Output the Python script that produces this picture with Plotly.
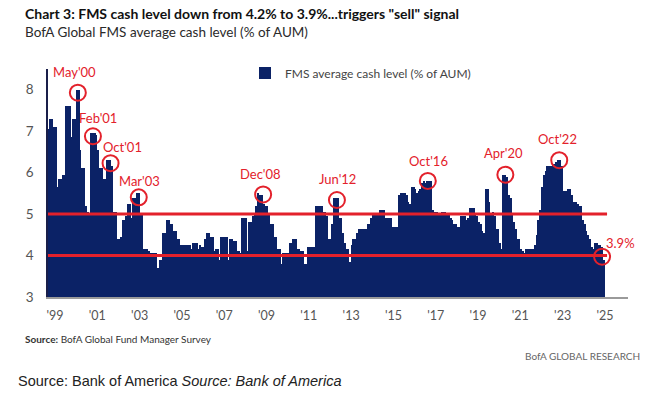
import plotly.graph_objects as go

# ---------------- data: FMS average cash level (% of AUM), monthly ----------------
start_year, start_month = 1998, 9
cash_1998 = [7.05, 7.3, 7.3, 7.1]  # Sep-Dec
cash_1999 = [7.1, 5.65, 5.85, 5.85, 5.95, 5.95, 7.6, 7.6, 7.6, 6.85, 7.3, 7.3]
cash_2000 = [8.0, 8.0, 6.55, 6.1, 6.1, 5.2, 5.05, 5.0, 6.95, 6.95, 6.95, 6.9]
cash_2001 = [6.55, 6.1, 6.1, 5.85, 5.85, 6.3, 6.3, 6.3, 6.15, 5.05, 5.05, 4.4]
cash_2002 = [4.4, 4.45, 4.85, 4.85, 4.95, 5.25, 5.25, 4.9, 5.4, 5.4, 5.5, 5.5]
cash_2003 = [5.0, 5.0, 4.15, 4.15, 4.15, 4.1, 4.05, 4.05, 4.05, 4.05, 3.7, 3.9]
cash_2004 = [3.9, 4.55, 4.55, 4.85, 4.85, 4.75, 4.75, 4.6, 4.6, 4.4, 4.4, 4.25]
cash_2005 = [4.25, 4.25, 4.25, 4.25, 4.25, 4.15, 4.3, 4.3, 4.3, 4.15, 4.25, 4.2]
cash_2006 = [4.2, 4.4, 4.55, 4.55, 4.45, 4.45, 4.1, 4.15, 4.15, 3.9, 4.45, 4.45]
cash_2007 = [4.45, 4.45, 3.9, 4.4, 4.4, 4.35, 4.35, 4.1, 4.1, 4.05, 4.9, 4.9]
cash_2008 = [4.9, 4.1, 4.8, 4.8, 4.95, 5.0, 5.2, 5.5, 5.45, 5.45, 5.25, 5.2]
cash_2009 = [5.2, 5.0, 4.75, 4.75, 4.45, 4.45, 4.15, 4.15, 3.8, 4.05, 4.05, 4.05]
cash_2010 = [4.05, 4.3, 4.3, 4.4, 4.4, 4.15, 4.15, 4.1, 4.1, 3.8, 3.8, 4.2]
cash_2011 = [4.2, 4.2, 4.2, 4.2, 5.2, 5.2, 5.2, 5.2, 5.05, 5.05, 4.95, 4.4]
cash_2012 = [4.4, 4.75, 5.4, 5.4, 5.4, 4.9, 4.9, 4.55, 4.3, 4.15, 4.15, 3.85]
cash_2013 = [4.25, 4.4, 4.4, 4.55, 4.65, 4.65, 4.65, 4.65, 4.65, 4.75, 4.75, 4.9]
cash_2014 = [5.0, 5.0, 5.0, 5.0, 5.1, 5.1, 5.1, 4.9, 4.9, 4.9, 4.9, 4.7]
cash_2015 = [4.7, 4.7, 4.7, 5.45, 5.5, 5.5, 5.5, 5.45, 5.3, 5.25, 5.65, 5.65]
cash_2016 = [5.6, 5.5, 5.55, 5.6, 5.75, 5.8, 5.75, 5.8, 5.8, 5.8, 5.1, 5.05]
cash_2017 = [5.05, 5.0, 5.0, 5.05, 5.05, 5.05, 5.0, 5.0, 4.9, 4.85, 4.75, 4.75]
cash_2018 = [4.7, 4.7, 4.95, 4.95, 4.95, 4.85, 4.9, 5.15, 5.15, 5.15, 5.0, 4.95]
cash_2019 = [4.8, 4.75, 4.6, 4.55, 5.6, 5.6, 5.3, 5.0, 5.05, 4.95, 4.65, 4.65]
cash_2020 = [4.3, 4.15, 5.95, 5.95, 5.9, 5.45, 5.4, 5.0, 4.8, 4.65, 4.4, 4.4]
cash_2021 = [4.15, 4.1, 4.05, 4.15, 4.15, 4.15, 4.15, 4.15, 4.25, 4.5, 4.85, 5.1]
cash_2022 = [5.65, 5.95, 6.05, 6.15, 6.15, 6.15, 6.2, 6.2, 6.25, 6.3, 6.3, 6.15]
cash_2023 = [5.55, 5.55, 5.55, 5.6, 5.6, 5.45, 5.3, 5.3, 5.25, 5.2, 5.2, 4.85]
cash_2024 = [4.75, 4.6, 4.5, 4.4, 4.2, 4.15, 4.3, 4.3, 4.25, 4.25, 4.2, 3.9]

yearly = [cash_1998, cash_1999, cash_2000, cash_2001, cash_2002, cash_2003, cash_2004,
          cash_2005, cash_2006, cash_2007, cash_2008, cash_2009, cash_2010, cash_2011,
          cash_2012, cash_2013, cash_2014, cash_2015, cash_2016, cash_2017, cash_2018,
          cash_2019, cash_2020, cash_2021, cash_2022, cash_2023, cash_2024]

# thresholds
sell_level = 4.0
buy_level = 5.0

# labelled points: (label, year, month)
event_labels = ["May'00", "Feb'01", "Oct'01", "Mar'03", "Dec'08", "Jun'12", "Oct'16", "Apr'20", "Oct'22", "3.9%"]
event_years = [2000, 2000, 2001, 2002, 2008, 2012, 2016, 2020, 2022, 2024]
event_months = [2, 10, 8, 12, 10, 5, 8, 4, 10, 12]

tick_years = list(range(1999, 2026, 2))
tick_text = ["'" + str(y)[2:] for y in tick_years]
y_ticks = [3, 4, 5, 6, 7, 8]

# ---------------- build series ----------------
xs, ys = [], []
for i, vals in enumerate(yearly):
    yr = start_year + i
    m0 = start_month if i == 0 else 1
    for j, v in enumerate(vals):
        m = m0 + j
        xs.append(yr + (m - 0.5) / 12.0)
        ys.append(v)

def lookup(year, month):
    t = year + (month - 0.5) / 12.0
    idx = min(range(len(xs)), key=lambda k: abs(xs[k] - t))
    return xs[idx], ys[idx]

NAVY = "#0b2266"
RED = "#e3212b"
X0, X1 = 1998.667, 2026.09

fig = go.Figure()
fig.add_trace(go.Bar(
    x=xs, y=[v - 3 for v in ys], base=3, width=1 / 12.0,
    marker=dict(color=NAVY, line=dict(width=0)),
    name="FMS average cash level (% of AUM)", showlegend=True,
    hovertemplate="%{customdata}<extra></extra>", customdata=ys,
))

shapes = []
for lvl in (buy_level, sell_level):
    shapes.append(dict(type="line", xref="x", yref="y", x0=X0, x1=2025.1, y0=lvl, y1=lvl,
                       line=dict(color=RED, width=3), layer="above"))

# style offsets for circles (pixels) and labels (pixels)
circle_off = [(-1, -3), (0, -3), (0, -3), (0, -4), (1, 1), (-1, -2.5), (0, 0), (0, 0), (1, 0), (-2, 3)]
label_off = [(-4, 18), (5, 15), (12, 13), (1, 12), (-2, 21), (0, 18.5), (1, 20), (-2, 21.5), (-1, 21), (16, 17)]

annotations = []
for k, lab in enumerate(event_labels):
    ex, ey = lookup(event_years[k], event_months[k])
    cdx, cdy = circle_off[k]
    shapes.append(dict(type="circle", xref="x", yref="y", xsizemode="pixel", ysizemode="pixel",
                       xanchor=ex, yanchor=ey, x0=cdx - 8, x1=cdx + 8, y0=cdy - 8, y1=cdy + 8,
                       line=dict(color=RED, width=2), fillcolor="rgba(0,0,0,0)", layer="above"))
    ldx, ldy = label_off[k]
    annotations.append(dict(x=ex, y=ey, xref="x", yref="y", text=lab, showarrow=False,
                            xshift=ldx, yshift=ldy, xanchor="center", yanchor="middle",
                            font=dict(family="Lato", size=13, color=RED)))

def px(p):
    return (p - 48) / 580.0

def py(p):
    return (297 - p) / 228.0

annotations += [
    dict(text="BofA Global FMS average cash level (% of AUM)", xref="paper", yref="paper",
         x=px(23), y=py(32), xanchor="left", yanchor="middle", showarrow=False,
         font=dict(family="Lato", size=13.5, color="#2a2a2a")),
    dict(text="<b>Source:</b> BofA Global Fund Manager Survey", xref="paper", yref="paper",
         x=px(23), y=py(339), xanchor="left", yanchor="middle", showarrow=False,
         font=dict(family="Lato", size=10, color="#333333")),
    dict(text="BofA GLOBAL RESEARCH", xref="paper", yref="paper",
         x=px(642), y=py(356), xanchor="right", yanchor="middle", showarrow=False,
         font=dict(family="Lato", size=10, color="#666666")),
    dict(text="Source: Bank of America <i>Source: Bank of America</i>", xref="paper", yref="paper",
         x=px(16), y=py(381), xanchor="left", yanchor="middle", showarrow=False,
         font=dict(family="Liberation Sans", size=14.5, color="#222222")),
]

fig.update_layout(
    width=647, height=398,
    margin=dict(l=48, r=19, t=69, b=101),
    paper_bgcolor="white", plot_bgcolor="white",
    bargap=0,
    title=dict(text='<b>Chart 3: FMS cash level down from 4.2% to 3.9%...triggers "sell" signal</b>',
               x=25 / 647, xanchor="left", xref="container", y=1 - 14 / 398, yanchor="middle",
               yref="container", font=dict(family="Lato", size=14, color="#111111")),
    legend=dict(x=px(245), y=py(73), xanchor="left", yanchor="middle", bgcolor="rgba(0,0,0,0)",
                font=dict(family="Lato", size=12, color="#444444"), itemwidth=30),
    shapes=shapes, annotations=annotations,
    xaxis=dict(range=[X0, X1], tickvals=tick_years, ticktext=tick_text, showgrid=False,
               showline=True, linecolor="#9a9a9a", linewidth=2, ticks="", zeroline=False,
               tickfont=dict(family="Lato", size=12.5, color="#555555"), ticklabelstandoff=6),
    yaxis=dict(range=[3, 8.5], tickvals=y_ticks, showgrid=False, zeroline=False,
               showline=True, linecolor="#1a1f4a", linewidth=1.5, ticks="",
               tickfont=dict(family="Lato", size=13.5, color="#555555"), ticklabelstandoff=10),
)

fig.write_html("out.html", config={"displayModeBar": False},
               post_script="document.body.style.margin='0';document.body.style.overflow='hidden';")
